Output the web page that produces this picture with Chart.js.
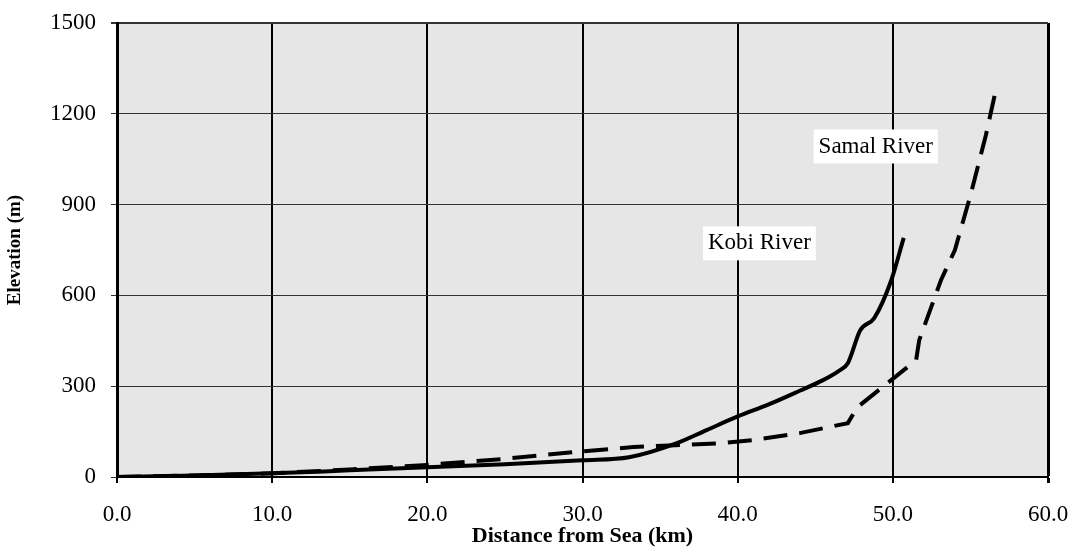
<!DOCTYPE html>
<html>
<head>
<meta charset="utf-8">
<script src="https://cdn.jsdelivr.net/npm/chart.js@4/dist/chart.umd.min.js"></script>
<style>
  html, body { margin: 0; padding: 0; background: #fff; }
  #wrap { width: 1077px; height: 554px; }
</style>
</head>
<body>
<div id="wrap"><canvas id="myChart"></canvas></div>
<script>
// river profiles (km from sea, elevation m)
const kobiKm   = [0, 5, 10, 15, 20, 25, 30, 33, 36, 38, 40, 42, 44, 45.5, 46.5, 47.1, 47.9, 48.8, 49.9, 50.7];
const kobiElev = [0, 5, 12, 22, 32, 42, 55, 65, 110, 155, 200, 240, 285, 320, 350, 376, 485, 525, 650, 790];

const samalKm   = [0, 5, 10, 15, 20, 25, 30, 33.3, 36, 39, 41, 44, 47.1, 47.7, 51.5, 51.7, 53.1, 54, 55, 56, 56.6];
const samalElev = [0, 5, 12, 25, 40, 60, 85, 99, 105, 112, 122, 145, 178, 230, 386, 452, 650, 750, 930, 1130, 1270];

const xTicks = [0, 10, 20, 30, 40, 50, 60];
const yTicks = [0, 300, 600, 900, 1200, 1500];

const riverLabels = [
  { text: 'Kobi River', km: 41.4, elev: 772 },
  { text: 'Samal River', km: 48.9, elev: 1092 }
];

const toPoints = (xs, ys) => xs.map((x, i) => ({ x: x, y: ys[i] }));

const ctx = document.getElementById('myChart').getContext('2d');
const serif = '"Liberation Serif", "DejaVu Serif", serif';

// grey speckled plot background of the scan, kept flat here
const plotBg = {
  id: 'plotBg',
  beforeDraw(chart) {
    const { ctx, chartArea: a } = chart;
    ctx.save();
    ctx.fillStyle = '#e6e6e6';
    ctx.fillRect(a.left, a.top, a.right - a.left, a.bottom - a.top);
    ctx.restore();
  }
};

// boxed series names written inside the plot
const boxLabels = {
  id: 'boxLabels',
  afterDatasetsDraw(chart) {
    const { ctx, scales } = chart;
    ctx.save();
    ctx.font = '23px ' + serif;
    ctx.textAlign = 'center';
    ctx.textBaseline = 'middle';
    riverLabels.forEach(l => {
      const x = scales.x.getPixelForValue(l.km);
      const y = scales.y.getPixelForValue(l.elev);
      const w = ctx.measureText(l.text).width + 10;
      ctx.fillStyle = '#ffffff';
      ctx.fillRect(x - w / 2, y - 17, w, 34);
      ctx.fillStyle = '#000';
      ctx.fillText(l.text, x, y);
    });
    ctx.restore();
  }
};

const config = {
  type: 'scatter',
  data: {
    datasets: [
      {
        label: 'Kobi River',
        data: toPoints(kobiKm, kobiElev),
        showLine: true,
        borderColor: '#000',
        borderWidth: 4,
        pointRadius: 0,
        cubicInterpolationMode: 'monotone'
      },
      {
        label: 'Samal River',
        data: toPoints(samalKm, samalElev),
        showLine: true,
        borderColor: '#000',
        borderWidth: 4,
        borderDash: [24, 12],
        pointRadius: 0,
        tension: 0
      }
    ]
  },
  options: {
    responsive: true,
    maintainAspectRatio: false,
    animation: false,
    layout: { padding: { top: 23, right: 29, left: 0, bottom: 0 } },
    plugins: {
      legend: { display: false },
      tooltip: { enabled: false }
    },
    scales: {
      x: {
        type: 'linear',
        min: 0,
        max: 60,
        afterBuildTicks: s => { s.ticks = xTicks.map(v => ({ value: v })); },
        afterFit: s => { s.height = 77; s.paddingLeft = 0; s.paddingRight = 0; },
        ticks: {
          color: '#000',
          font: { family: serif, size: 23 },
          padding: 18,
          maxRotation: 0,
          callback: v => Number(v).toFixed(1)
        },
        grid: {
          color: '#000',
          lineWidth: c => (c.index === xTicks.length - 1 ? 3 : 2),
          tickLength: 6
        },
        border: { display: true, color: '#000', width: 2 },
        title: {
          display: true,
          text: 'Distance from Sea (km)',
          color: '#000',
          font: { family: serif, size: 22, weight: 'bold' },
          padding: { top: 0, bottom: 4 }
        }
      },
      y: {
        min: 0,
        max: 1500,
        afterBuildTicks: s => { s.ticks = yTicks.map(v => ({ value: v })); },
        afterFit: s => { s.width = 117; s.paddingTop = 0; s.paddingBottom = 0; },
        ticks: {
          color: '#000',
          font: { family: serif, size: 23 },
          padding: 15,
          callback: v => String(v)
        },
        grid: {
          color: '#333',
          lineWidth: c => (c.index === yTicks.length - 1 ? 2 : 1),
          tickLength: 6,
          borderDash: [9, 3, 2, 3]
        },
        border: { display: true, color: '#000', width: 3 },
        title: {
          display: true,
          text: 'Elevation (m)',
          color: '#000',
          font: { family: serif, size: 19, weight: 'bold' },
          padding: { top: 4, bottom: 0 }
        }
      }
    }
  },
  plugins: [plotBg, boxLabels]
};

new Chart(ctx, config);
</script>
</body>
</html>
